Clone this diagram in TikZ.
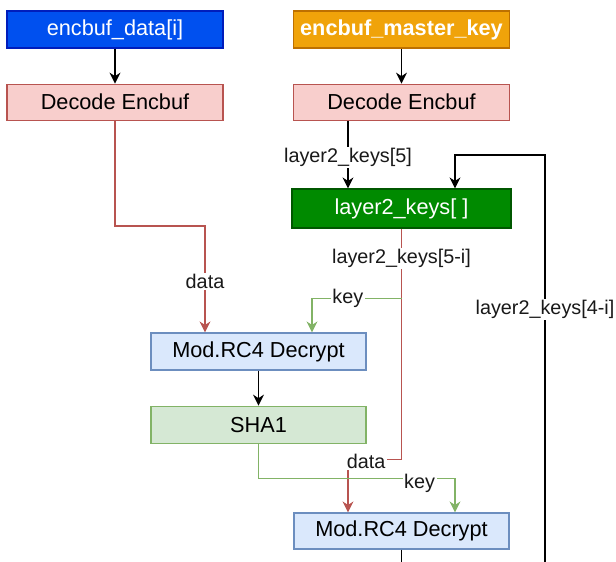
\documentclass[tikz,border=0pt]{standalone}
\usepackage{fontspec}
\setmainfont{Liberation Sans}
\usepackage{xcolor}
\usepackage{tikz}
\usetikzlibrary{arrows.meta,positioning,calc}

\definecolor{bluefill}{HTML}{0050EF}
\definecolor{blueline}{HTML}{001DBC}
\definecolor{orangefill}{HTML}{F0A30A}
\definecolor{orangeline}{HTML}{BD7000}
\definecolor{pinkfill}{HTML}{F8CECC}
\definecolor{pinkline}{HTML}{B85450}
\definecolor{keysfill}{HTML}{008A00}
\definecolor{keysline}{HTML}{005700}
\definecolor{rcfill}{HTML}{DAE8FC}
\definecolor{rcline}{HTML}{6C8EBF}
\definecolor{shafill}{HTML}{D5E8D4}
\definecolor{shaline}{HTML}{82B366}

\begin{document}
\begin{tikzpicture}[x=1pt,y=-1pt,node distance=35pt and 35pt,>={Stealth[length=11pt,width=11pt]},
  box/.style={draw,line width=1.2pt,align=center,minimum width=216pt,minimum height=37pt,inner sep=0pt,
    font=\fontsize{21.7}{26}\selectfont},
  lbl/.style={fill=white,inner sep=1.5pt,font=\fontsize{19.8}{23}\selectfont,text=black!90},
  blk/.style={->,line width=1.2pt},
  redl/.style={->,line width=1.2pt,draw=pinkline},
  grnl/.style={->,line width=1.2pt,draw=shaline}]
  \useasboundingbox (0,0) rectangle (616,562);

  \node[box,fill=bluefill,draw=blueline,text=white] (data) at (115,29.5) {encbuf\_data[i]};
  \node[box,fill=pinkfill,draw=pinkline,minimum height=36pt,below=of data] (dec1) {Decode Encbuf};
  \node[box,fill=orangefill,draw=orangeline,text=white,font=\fontsize{21.7}{26}\selectfont\bfseries] (mkey) at (401.5,29.5) {encbuf\_master\_key};
  \node[box,fill=pinkfill,draw=pinkline,minimum height=36pt,below=of mkey] (dec2) {Decode Encbuf};
  \node[box,fill=keysfill,draw=keysline,text=white,minimum width=219pt,minimum height=39pt] (keys) at (401.5,208.5) {layer2\_keys[ ]};
  \node[box,fill=rcfill,draw=rcline,minimum width=215pt] (rc4a) at (258.5,351.5) {Mod.RC4 Decrypt};
  \node[box,fill=shafill,draw=shaline,minimum width=215pt,below=of rc4a] (sha) {SHA1};
  \node[box,fill=rcfill,draw=rcline,minimum width=215pt,minimum height=36pt] (rc4b) at (401.5,531) {Mod.RC4 Decrypt};

  \coordinate (c1) at (205,226);
  \coordinate (loopin) at (545,562);
  \coordinate (loopc) at (545,155);
  \coordinate (kb) at ([yshift=-70pt]keys.south);
  \coordinate (outb) at (401.5,562);

  \draw[blk] (data) -- (dec1);
  \draw[blk] (mkey) -- (dec2);
  \draw[redl] (dec1.south) |- (c1) -- node[lbl,pos=0.52]{data} (c1 |- rc4a.north);
  \draw[blk] ([xshift=-53.5pt]dec2.south) -- node[lbl,pos=0.54]{layer2\_keys[5]} ([xshift=-53.5pt]keys.north);
  \draw[blk] (loopin) -- node[lbl,pos=0.62]{layer2\_keys[4-i]} (loopc) -| ([xshift=53.5pt]keys.north);
  \draw[redl] (keys.south) -- node[lbl,pos=0.13]{layer2\_keys[5-i]} ++(0,231)
    -| node[lbl,pos=0.33,yshift=-2pt]{data} ([xshift=-53.5pt]rc4b.north);
  \draw[grnl] (kb) -| node[lbl,pos=0.3]{key} ([xshift=53.5pt]rc4a.north);
  \draw[blk] (rc4a) -- (sha);
  \draw[grnl] (sha.south) -- ++(0,35) -| node[lbl,pos=0.41,yshift=-5pt]{key} ([xshift=53.5pt]rc4b.north);
  \draw[line width=1.2pt] (rc4b.south) -- (outb);
\end{tikzpicture}
\end{document}
